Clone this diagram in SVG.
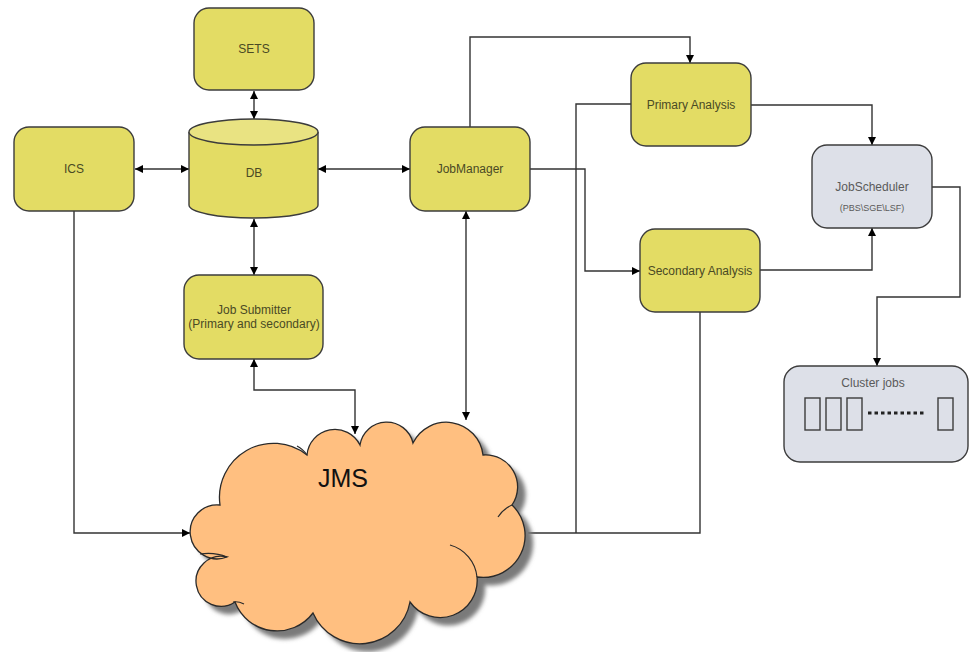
<svg xmlns="http://www.w3.org/2000/svg" width="969" height="652" viewBox="0 0 969 652">
  <defs>
    <marker id="arrow" viewBox="0 0 10 10" refX="10" refY="5" markerWidth="9" markerHeight="8" markerUnits="userSpaceOnUse" orient="auto-start-reverse">
      <path d="M0,0 L10,5 L0,10 Z" fill="#000"/>
    </marker>
    <filter id="soft" x="-10%" y="-10%" width="130%" height="130%">
      <feGaussianBlur stdDeviation="2"/>
    </filter>
    <path id="cloud" d="M220,505 A54,54 0 0 1 307,455 A28,28 0 0 1 360,445 A27,27 0 0 1 413,443 A37,37 0 0 1 483,455 A32,32 0 0 1 512,505 A42,42 0 0 1 477,577 A37,37 0 0 1 410,602 A51,51 0 0 1 313,613 A45,45 0 0 1 235,602 A25,25 0 1 1 227,557 A27,27 0 1 1 220,505 Z"/>
  </defs>
  <style>
    .box { fill: #e3dc64; stroke: #3c3c3c; stroke-width: 1.4; }
    .grey { fill: #dde0e8; stroke: #3c3c3c; stroke-width: 1.4; }
    .lbl { font-family: "Liberation Sans", Arial, sans-serif; font-size: 12px; fill: #4a4a24; text-anchor: middle; dominant-baseline: central; }
    .glbl { font-family: "Liberation Sans", Arial, sans-serif; font-size: 12px; fill: #5a5a5a; text-anchor: middle; dominant-baseline: central; }
    .wire { fill: none; stroke: #333; stroke-width: 1.4; }
    .two { marker-start: url(#arrow); marker-end: url(#arrow); }
    .one { marker-end: url(#arrow); }
  </style>
  <rect width="969" height="652" fill="#fff"/>

  <g id="connectors">
    <path class="wire two" d="M254,91 V119"/>
    <path class="wire two" d="M135,169 H189"/>
    <path class="wire two" d="M318,169 H410"/>
    <path class="wire two" d="M254,219 V275"/>
    <path class="wire two" d="M254,359 V390 H355 V434"/>
    <path class="wire two" d="M466,211 V420"/>
    <path class="wire one" d="M470,127 V37 H690 V63"/>
    <path class="wire one" d="M530,169 H585 V271 H640"/>
    <path class="wire one" d="M751,105 H872 V145"/>
    <path class="wire one" d="M760,270 H872 V228"/>
    <path class="wire one" d="M932,187 H960 V297 H877 V366"/>
    <path class="wire one" d="M74,211 V533 H190"/>
    <path class="wire" d="M528,533 H700 V312"/>
    <path class="wire" d="M576,533 V104 H631"/>
  </g>

  <g id="sets">
    <rect class="box" x="194" y="8" width="120" height="82" rx="15"/>
    <text class="lbl" x="254" y="49">SETS</text>
  </g>

  <g id="db">
    <path class="box" d="M189,132 V205 A64.5,13 0 0 0 318,205 V132"/>
    <ellipse cx="253.5" cy="132" rx="64.5" ry="13" fill="#e9e382" stroke="#3c3c3c" stroke-width="1.4"/>
    <text class="lbl" x="254" y="173">DB</text>
  </g>

  <g id="ics">
    <rect class="box" x="14" y="127" width="120" height="84" rx="15"/>
    <text class="lbl" x="74" y="169">ICS</text>
  </g>

  <g id="jobmanager">
    <rect class="box" x="410" y="127" width="120" height="84" rx="15"/>
    <text class="lbl" x="470" y="169">JobManager</text>
  </g>

  <g id="jobsubmitter">
    <rect class="box" x="184" y="275" width="139" height="84" rx="15"/>
    <text class="lbl" x="254" y="310">Job Submitter</text>
    <text class="lbl" x="254" y="324">(Primary and secondary)</text>
  </g>

  <g id="primary">
    <rect class="box" x="631" y="63" width="120" height="83" rx="15"/>
    <text class="lbl" x="691" y="105">Primary Analysis</text>
  </g>

  <g id="secondary">
    <rect class="box" x="640" y="229" width="120" height="83" rx="15"/>
    <text class="lbl" x="700" y="271">Secondary Analysis</text>
  </g>

  <g id="jobscheduler">
    <rect class="grey" x="812" y="145" width="120" height="83" rx="15"/>
    <text class="glbl" x="872" y="187">JobScheduler</text>
    <text class="glbl" x="872" y="208" style="font-size:9px">(PBS\SGE\LSF)</text>
  </g>

  <g id="clusterjobs">
    <rect class="grey" x="784" y="366" width="184" height="96" rx="16"/>
    <text class="glbl" x="873" y="383">Cluster jobs</text>
    <rect class="grey" x="805" y="398" width="15" height="32"/>
    <rect class="grey" x="826" y="398" width="15" height="32"/>
    <rect class="grey" x="847" y="398" width="15" height="32"/>
    <line x1="868" y1="413" x2="926" y2="413" stroke="#222" stroke-width="3" stroke-dasharray="3.5,3"/>
    <rect class="grey" x="938" y="398" width="15" height="32"/>
  </g>

  <g id="jms">
    <use href="#cloud" transform="translate(8,8)" fill="#7a7a7a" filter="url(#soft)"/>
    <use href="#cloud" fill="#ffbf80" stroke="#2a2a2a" stroke-width="1.3"/>
    <!-- inner fold lines where the puffs overlap -->
    <path d="M297,446 Q303,449 307,455 M512,505 Q503,509 498,517 M450,545 A37,37 0 0 1 477,577 M200,554 Q215,552 227,557 M233,602 Q238,601 244,604" fill="none" stroke="#2a2a2a" stroke-width="1.2"/>
    <text x="343" y="478" font-family="'Liberation Sans', Arial, sans-serif" font-size="25" fill="#111" text-anchor="middle" dominant-baseline="central">JMS</text>
  </g>
</svg>
